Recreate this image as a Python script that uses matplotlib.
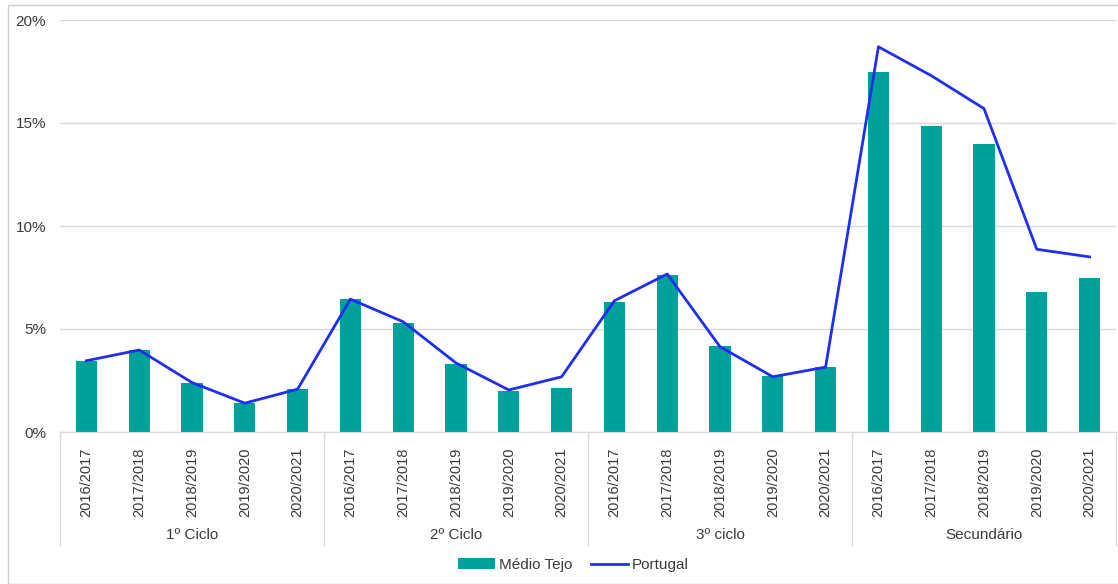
import matplotlib.pyplot as plt
import matplotlib.transforms as mtransforms
from matplotlib.patches import Rectangle
from matplotlib.ticker import FuncFormatter

plt.rcParams['font.family'] = ['Liberation Sans', 'DejaVu Sans']

# data
groups = ['1º Ciclo', '2º Ciclo', '3º ciclo', 'Secundário']
years = ['2016/2017', '2017/2018', '2018/2019', '2019/2020', '2020/2021']
medio_tejo = [3.45, 4.0, 2.4, 1.4, 2.08,
              6.45, 5.3, 3.3, 2.0, 2.13,
              6.3, 7.6, 4.17, 2.7, 3.15,
              17.5, 14.85, 14.0, 6.8, 7.47]
portugal = [3.46, 3.98, 2.4, 1.4, 2.08,
            6.45, 5.35, 3.35, 2.04, 2.68,
            6.37, 7.67, 4.14, 2.68, 3.15,
            18.7, 17.3, 15.7, 8.87, 8.5]

teal = '#00a19a'
blue = '#1f2ef0'
grey_txt = '#3a3a3a'

fig = plt.figure(figsize=(11.18, 5.84), dpi=100)
ax = fig.add_axes([60 / 1118, 1 - 432 / 584, 1056 / 1118, 412 / 584])

x = list(range(len(medio_tejo)))
bars = ax.bar(x, medio_tejo, width=0.4, color=teal, label='Médio Tejo', zorder=2)
line, = ax.plot(x, portugal, color=blue, lw=2, label='Portugal', zorder=3)

ax.set_xlim(-0.5, len(x) - 0.5)
ax.set_ylim(0, 20)
ax.set_yticks([0, 5, 10, 15, 20])
ax.yaxis.set_major_formatter(FuncFormatter(lambda v, p: f'{v:.0f}%'))
ax.grid(axis='y', color='#d9d9d9', lw=1, zorder=0)
ax.set_axisbelow(True)

ax.set_xticks(x)
ax.set_xticklabels(years * len(groups), rotation=90, fontsize=10.5, color=grey_txt)
ax.tick_params(axis='x', length=0, pad=11)
ax.tick_params(axis='y', length=0, pad=10, labelsize=11, labelcolor=grey_txt)

for s in ['top', 'right', 'left']:
    ax.spines[s].set_visible(False)
ax.spines['bottom'].set_color('#d9d9d9')

trans = mtransforms.blended_transform_factory(ax.transData, ax.transAxes)
n = len(years)
for i, g in enumerate(groups):
    ax.text(i * n + (n - 1) / 2, -0.25, g, transform=trans, ha='center', va='center',
            fontsize=11, color=grey_txt)
for i in range(len(groups) + 1):
    ax.plot([i * n - 0.5] * 2, [0, -0.274], transform=trans, color='#d9d9d9',
            lw=1, clip_on=False)

fig.legend([bars, line], ['Médio Tejo', 'Portugal'], loc='center',
           bbox_to_anchor=(0.513, (584 - 565) / 584), ncol=2, frameon=False,
           fontsize=11, handlelength=2.4, handletextpad=0.3, columnspacing=1.2,
           labelcolor=grey_txt)

fig.patches.append(Rectangle((8 / 1118, 0), 1.2, 1 - 5 / 584, transform=fig.transFigure,
                             fill=False, edgecolor='#d0d0d0', lw=1))

fig.savefig('out.png', dpi=100)
